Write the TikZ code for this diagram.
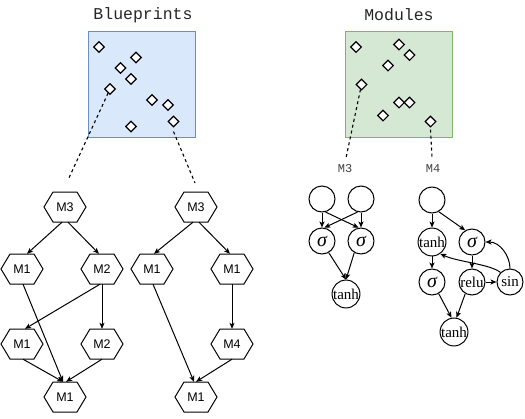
\documentclass[tikz,border=0pt]{standalone}
\usepackage{fontspec}
\setmainfont{Liberation Serif}
\newfontfamily\hexfont{Liberation Sans}
\newfontfamily\monofont{Liberation Mono}
\usetikzlibrary{shapes.geometric,arrows.meta}
\definecolor{bpfill}{HTML}{DAE8FC}
\definecolor{bpline}{HTML}{6C8EBF}
\definecolor{mdfill}{HTML}{D5E8D4}
\definecolor{mdline}{HTML}{82B366}
\tikzset{
 hexn/.style={minimum width=42pt,minimum height=30pt,inner sep=0pt,font=\hexfont\fontsize{12.5}{14}\selectfont},
 hexd/.style={draw=black,line width=1pt,line join=miter},
 arr/.style={draw=black,line width=1pt,-{Stealth[length=6pt,width=5pt,inset=1.5pt]}},
 dia/.style={diamond,draw=black,fill=white,line width=1.1pt,minimum width=11pt,minimum height=11pt,inner sep=0pt},
 dashline/.style={draw=black,line width=1.1pt,dash pattern=on 3pt off 3pt},
 cnode/.style={circle,draw=black,line width=1pt,minimum size=26pt,inner sep=0pt,font=\fontsize{15}{15}\selectfont},
 sig/.style={cnode,font=\fontsize{20}{20}\selectfont\itshape},
 ttl/.style={font=\monofont\fontsize{16.5}{18}\selectfont,text=black!85},
 lbl/.style={font=\monofont\fontsize{12}{14}\selectfont,text=black!75},
 bpbox/.style={draw=bpline,fill=bpfill,line width=1pt},
 mdbox/.style={draw=mdline,fill=mdfill,line width=1pt},
}
\newcommand\hexnode[4]{\node[hexn] (#1) at (#2,#3) {#4};
 \draw[hexd] ([xshift=-21pt]#1.center) -- ++(9pt,15pt) -- ++(24pt,0pt) -- ++(9pt,-15pt) -- ++(-9pt,-15pt) -- ++(-24pt,0pt) -- cycle;}
\begin{document}
\begin{tikzpicture}[x=1pt,y=-1pt]
\useasboundingbox (0,0) rectangle (525,418);
% titles
\node[ttl] (tb) at (143,15) {Blueprints};
\node[ttl] (tm) at (399,15) {Modules};
% boxes
\node[bpbox,minimum width=107pt,minimum height=106pt,inner sep=0pt] (bbox) at (141.5,84) {};
\node[mdbox,minimum width=107pt,minimum height=106pt,inner sep=0pt] (mbox) at (398.5,84) {};
% blueprint diamonds
\node[dia] (b1) at (99,47) {};
\node[dia] (b2) at (136,57.5) {};
\node[dia] (b3) at (120.5,68) {};
\node[dia] (b4) at (131,79) {};
\node[dia] (b5) at (110,89) {};
\node[dia] (b6) at (152,100) {};
\node[dia] (b7) at (168,105) {};
\node[dia] (b8) at (173.5,121.5) {};
\node[dia] (b9) at (131,126.5) {};
% module diamonds
\node[dia] (m1) at (356,47) {};
\node[dia] (m2) at (399,44.5) {};
\node[dia] (m3) at (409.5,55) {};
\node[dia] (m4) at (388,65.5) {};
\node[dia] (m5) at (361.5,84.5) {};
\node[dia] (m6) at (399,102.5) {};
\node[dia] (m7) at (409.5,102.5) {};
\node[dia] (m8) at (383,115.5) {};
\node[dia] (m9) at (430.5,121.5) {};
% dashed lines
\coordinate (eb1) at (68,180);
\coordinate (eb2) at (195,183);
\coordinate (em1) at (346,158);
\coordinate (em2) at (432,157);
\draw[dashline] (b5) -- (eb1);
\draw[dashline] ([yshift=-4pt]b8.south) -- (eb2);
\draw[dashline] (m5) -- (em1);
\draw[dashline] ([yshift=-2pt]m9.south) -- (em2);
\node[lbl] (l3) at (345,169) {M3};
\node[lbl] (l4) at (433,169) {M4};
% blueprint graph 1
\hexnode{a3}{65}{207}{M3}
\hexnode{a1}{22}{269}{M1}
\hexnode{a2}{102}{269}{M2}
\hexnode{c1}{22}{344}{M1}
\hexnode{c2}{102}{344}{M2}
\hexnode{e1}{65}{397}{M1}
\draw[arr] ([xshift=-3pt]a3.south) -- ([xshift=5pt]a1.north);
\draw[arr] ([xshift=3pt]a3.south) -- ([xshift=-3pt]a2.north);
\draw[arr] ([xshift=1pt]a1.south) -- ([xshift=-2pt]e1.north);
\draw[arr] ([xshift=-2pt]a2.south) -- ([xshift=3pt]c1.north);
\draw[arr] (a2.south) -- (c2.north);
\draw[arr] ([xshift=1pt]c1.south) -- ([xshift=-2pt]e1.north);
\draw[arr] (c2.south) -- ([xshift=1pt]e1.north);
% blueprint graph 2
\hexnode{d3}{196}{207}{M3}
\hexnode{d1}{152}{269}{M1}
\hexnode{d2}{232}{269}{M1}
\hexnode{f4}{232}{344}{M4}
\hexnode{g1}{196}{397}{M1}
\draw[arr] ([xshift=-3pt]d3.south) -- ([xshift=2pt]d1.north);
\draw[arr] ([xshift=3pt]d3.south) -- ([xshift=-2pt]d2.north);
\draw[arr] ([xshift=1pt]d1.south) -- ([xshift=-2pt]g1.north);
\draw[arr] (d2.south) -- (f4.north);
\draw[arr] (f4.south) -- (g1.north);
% module M3
\node[cnode] (i1) at (322,199) {};
\node[cnode] (i2) at (361,199) {};
\node[sig] (s1) at (322,241) {σ};
\node[sig] (s2) at (361,241) {σ};
\node[cnode] (t1) at (346,294) {tanh};
\draw[arr] (i1.south) -- (s1.north);
\draw[arr] (i2.south) -- (s2.north);
\draw[arr] (i1.-75) -- (s2.100);
\draw[arr] (i2.-105) -- (s1.80);
\draw[arr] (s1.-60) -- (t1.north);
\draw[arr] (s2.-120) -- (t1.north);
% module M4
\node[cnode] (j) at (432,200) {};
\node[cnode] (h1) at (432,242) {tanh};
\node[sig] (s3) at (472,242) {σ};
\node[sig] (s4) at (432,282) {σ};
\node[cnode] (r) at (472,282) {relu};
\node[cnode] (sn) at (510,282) {sin};
\node[cnode] (t2) at (454,332) {tanh};
\draw[arr] (j.south) -- (h1.north);
\draw[arr] (j.-60) -- (s3.120);
\draw[arr] (h1.south) -- (s4.north);
\draw[arr] (s3.south) -- (r.north);
\draw[arr] (r.east) -- (sn.west);
\draw[arr] (sn.north) .. controls (510,256) and (500,242) .. (s3.east);
\draw[arr] (sn.135) .. controls (490,264) and (458,262) .. (h1.-55);
\draw[arr] (s4.-60) -- (t2.100);
\draw[arr] (r.-120) -- (t2.80);
\end{tikzpicture}
\end{document}
